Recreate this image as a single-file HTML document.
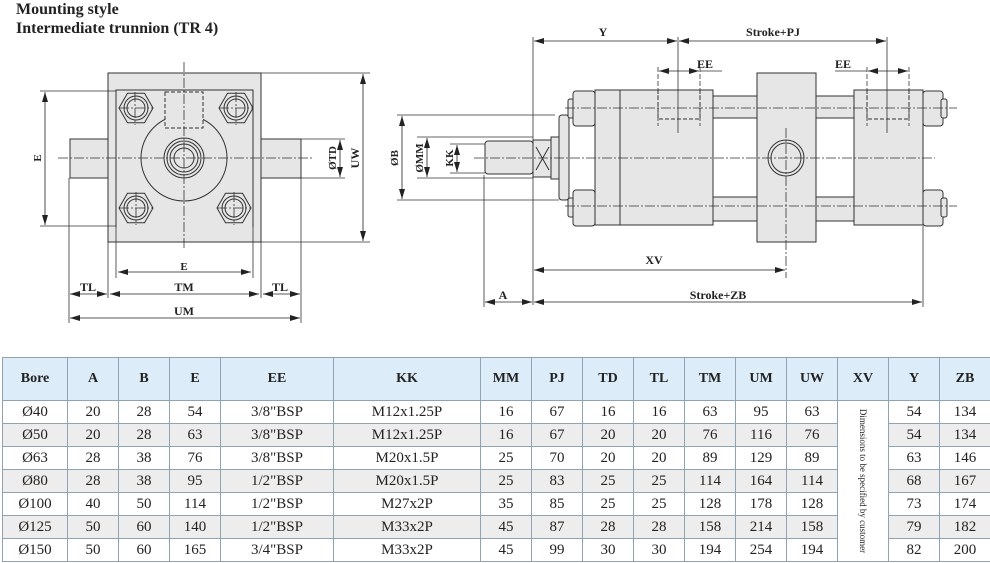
<!DOCTYPE html>
<html><head><meta charset="utf-8"><style>
body{margin:0;width:990px;height:563px;background:#fff;position:relative;overflow:hidden;font-family:"Liberation Serif",serif;}
.t{position:absolute;left:16px;font-weight:bold;font-size:16px;color:#222;line-height:19px}
svg{position:absolute;left:0;top:0}
table{position:absolute;left:2px;top:357px;border-collapse:collapse;table-layout:fixed;width:988px;font-family:"Liberation Serif",serif}
td,th{border:1px solid #8fa3b3;text-align:center;padding:0;color:#222}
th{background:#dcedf9;height:42px;font-size:14px}
td{height:22px;font-size:15px}
tr.g td{background:#ededed}
td.xv{background:#fff!important;position:relative}
.v{position:absolute;left:50%;top:50%;transform:translate(-50%,-50%) rotate(90deg);white-space:nowrap;font-size:9px}
</style></head><body>
<div class="t" style="top:0">Mounting style</div>
<div class="t" style="top:19px">Intermediate trunnion (TR 4)</div>
<svg width="990" height="357" viewBox="0 0 990 357" font-family="Liberation Serif,serif" font-size="12" font-weight="bold">
<defs><marker id="a" viewBox="0 0 10 6" refX="10" refY="3" markerWidth="10" markerHeight="6" orient="auto-start-reverse" markerUnits="userSpaceOnUse"><path d="M0,0L10,3L0,6z" fill="#222"/></marker></defs>
<g stroke="#333" stroke-width="1" fill="#e6e6e6">
<rect x="70" y="139" width="38" height="39"/><rect x="261" y="139" width="40" height="39"/>
<rect x="108" y="73" width="153" height="169"/>
<path d="M116,227V90H253V227" fill="none"/>
<circle cx="184" cy="158" r="43"/>
<circle cx="184" cy="158" r="20"/><circle cx="184" cy="158" r="17" fill="none"/><circle cx="184" cy="158" r="14" fill="none"/><circle cx="184" cy="158" r="10" fill="none"/>
<rect x="165" y="92" width="38" height="36" stroke-dasharray="4,2" fill="#e6e6e6"/>
<g>
<polygon points="153,108 144.5,122.7 127.5,122.7 119,108 127.5,93.3 144.5,93.3"/><circle cx="136" cy="108" r="12"/><circle cx="136" cy="108" r="9" fill="none"/>
<polygon points="253,108 244.5,122.7 227.5,122.7 219,108 227.5,93.3 244.5,93.3"/><circle cx="236" cy="108" r="12"/><circle cx="236" cy="108" r="9" fill="none"/>
<polygon points="153,208 144.5,222.7 127.5,222.7 119,208 127.5,193.3 144.5,193.3"/><circle cx="136" cy="208" r="12"/><circle cx="136" cy="208" r="9" fill="none"/>
<polygon points="251,208 242.5,222.7 225.5,222.7 217,208 225.5,193.3 242.5,193.3"/><circle cx="234" cy="208" r="12"/><circle cx="234" cy="208" r="9" fill="none"/>
</g>
<rect x="485" y="141" width="48" height="33" rx="3"/>
<rect x="533" y="140" width="18" height="37"/>
<path d="M536,147L549,170M549,147L536,170" fill="none"/>
<rect x="551" y="137" width="8" height="42"/>
<rect x="559" y="115" width="10" height="85" rx="3"/>
<rect x="713" y="96" width="44" height="22"/><rect x="816" y="96" width="38" height="22"/>
<rect x="713" y="197" width="44" height="24"/><rect x="816" y="197" width="38" height="24"/>
<rect x="568" y="99" width="6" height="19" rx="2"/><rect x="568" y="198" width="6" height="19" rx="2"/>
<rect x="573" y="91" width="22" height="35" rx="3"/><rect x="573" y="190" width="22" height="36" rx="3"/>
<rect x="923" y="91" width="20" height="35" rx="3"/><rect x="923" y="190" width="20" height="36" rx="3"/>
<rect x="941" y="99" width="6" height="19" rx="2"/><rect x="941" y="198" width="6" height="19" rx="2"/>
<rect x="595" y="90" width="118" height="135"/><path d="M620,90V225" fill="none"/>
<rect x="854" y="90" width="69" height="135"/>
<rect x="757" y="73" width="59" height="169"/>
<circle cx="786" cy="158" r="18"/><circle cx="786" cy="158" r="15" fill="none"/>
<rect x="658" y="90" width="42" height="29" stroke-dasharray="4,2" fill="none"/>
<rect x="867" y="90" width="42" height="29" stroke-dasharray="4,2" fill="none"/>
</g>
<g stroke="#333" stroke-width="0.8" fill="none">
<path d="M58,158H312M184,62V250M135,92V125M119,108H153M236,92V125M219,108H253M136,192V225M119,208H153M234,192V225M217,208H251" stroke-dasharray="10,2,2,2"/>
<path d="M474,158H935M565,108H957M565,206H957M786,128V278" stroke-dasharray="10,2,2,2"/>
<path d="M658,67V126M700,67V126M867,67V126M909,67V126" stroke-dasharray="5,2"/>
<path d="M40,91H116M40,226H116M261,73H370M261,242H370M301,139H345M301,178H345M116,227V278M253,227V278M108,242V298M261,242V298M69,178V323M301,178V323"/>
<path d="M533,37V305M678,37V133M887,37V133M397,115H555M397,200H559M417,137H533M417,178H533M450,144H485M450,173H485M484,175V307M923,226V307M700,71H722M867,71H835"/>
</g>
<g stroke="#222" stroke-width="0.8" marker-start="url(#a)" marker-end="url(#a)">
<line x1="45" y1="92" x2="45" y2="225"/><line x1="340" y1="140" x2="340" y2="177"/><line x1="363" y1="74" x2="363" y2="241"/>
<line x1="118" y1="272" x2="251" y2="272"/><line x1="70" y1="294" x2="107" y2="294"/><line x1="110" y1="294" x2="259" y2="294"/><line x1="263" y1="294" x2="300" y2="294"/><line x1="70" y1="318" x2="300" y2="318"/>
<line x1="534" y1="41" x2="677" y2="41"/><line x1="679" y1="41" x2="886" y2="41"/><line x1="659" y1="71" x2="699" y2="71"/><line x1="868" y1="71" x2="908" y2="71"/>
<line x1="402" y1="116" x2="402" y2="199"/><line x1="427" y1="138" x2="427" y2="177"/><line x1="457" y1="145" x2="457" y2="172"/>
<line x1="534" y1="270" x2="785" y2="270"/><line x1="485" y1="302" x2="532" y2="302"/><line x1="534" y1="302" x2="922" y2="302"/>
</g>
<g fill="#222" text-anchor="middle">
<text x="184" y="270" font-size="11">E</text><text x="88" y="291">TL</text><text x="184" y="291">TM</text><text x="280" y="291">TL</text><text x="184" y="315">UM</text>
<text transform="translate(41,158) rotate(-90)" font-size="11">E</text>
<text transform="translate(336,158) rotate(-90)" font-size="11">ØTD</text>
<text transform="translate(359,158) rotate(-90)">UW</text>
<text x="603" y="36">Y</text><text x="773" y="36">Stroke+PJ</text><text x="705" y="68">EE</text><text x="843" y="68">EE</text>
<text x="654" y="264">XV</text><text x="503" y="299">A</text><text x="718" y="299">Stroke+ZB</text>
<text transform="translate(398,158) rotate(-90)" font-size="11">ØB</text>
<text transform="translate(423,158) rotate(-90)" font-size="11">ØMM</text>
<text transform="translate(453,158) rotate(-90)" font-size="11">KK</text>
</g>
</svg>
<table>
<colgroup><col style="width:65px"><col style="width:51px"><col style="width:51px"><col style="width:51px"><col style="width:113px"><col style="width:147px"><col style="width:51px"><col style="width:51px"><col style="width:51px"><col style="width:51px"><col style="width:51px"><col style="width:51px"><col style="width:51px"><col style="width:51px"><col style="width:51px"><col style="width:51px"></colgroup>
<tr><th>Bore</th><th>A</th><th>B</th><th>E</th><th>EE</th><th>KK</th><th>MM</th><th>PJ</th><th>TD</th><th>TL</th><th>TM</th><th>UM</th><th>UW</th><th>XV</th><th>Y</th><th>ZB</th></tr>
<tr><td>Ø40</td><td>20</td><td>28</td><td>54</td><td>3/8"BSP</td><td>M12x1.25P</td><td>16</td><td>67</td><td>16</td><td>16</td><td>63</td><td>95</td><td>63</td><td class="xv" rowspan="7"><div class="v">Dimensions to be specified by customer</div></td><td>54</td><td>134</td></tr>
<tr class="g"><td>Ø50</td><td>20</td><td>28</td><td>63</td><td>3/8"BSP</td><td>M12x1.25P</td><td>16</td><td>67</td><td>20</td><td>20</td><td>76</td><td>116</td><td>76</td><td>54</td><td>134</td></tr>
<tr><td>Ø63</td><td>28</td><td>38</td><td>76</td><td>3/8"BSP</td><td>M20x1.5P</td><td>25</td><td>70</td><td>20</td><td>20</td><td>89</td><td>129</td><td>89</td><td>63</td><td>146</td></tr>
<tr class="g"><td>Ø80</td><td>28</td><td>38</td><td>95</td><td>1/2"BSP</td><td>M20x1.5P</td><td>25</td><td>83</td><td>25</td><td>25</td><td>114</td><td>164</td><td>114</td><td>68</td><td>167</td></tr>
<tr><td>Ø100</td><td>40</td><td>50</td><td>114</td><td>1/2"BSP</td><td>M27x2P</td><td>35</td><td>85</td><td>25</td><td>25</td><td>128</td><td>178</td><td>128</td><td>73</td><td>174</td></tr>
<tr class="g"><td>Ø125</td><td>50</td><td>60</td><td>140</td><td>1/2"BSP</td><td>M33x2P</td><td>45</td><td>87</td><td>28</td><td>28</td><td>158</td><td>214</td><td>158</td><td>79</td><td>182</td></tr>
<tr><td>Ø150</td><td>50</td><td>60</td><td>165</td><td>3/4"BSP</td><td>M33x2P</td><td>45</td><td>99</td><td>30</td><td>30</td><td>194</td><td>254</td><td>194</td><td>82</td><td>200</td></tr>
</table>
</body></html>
